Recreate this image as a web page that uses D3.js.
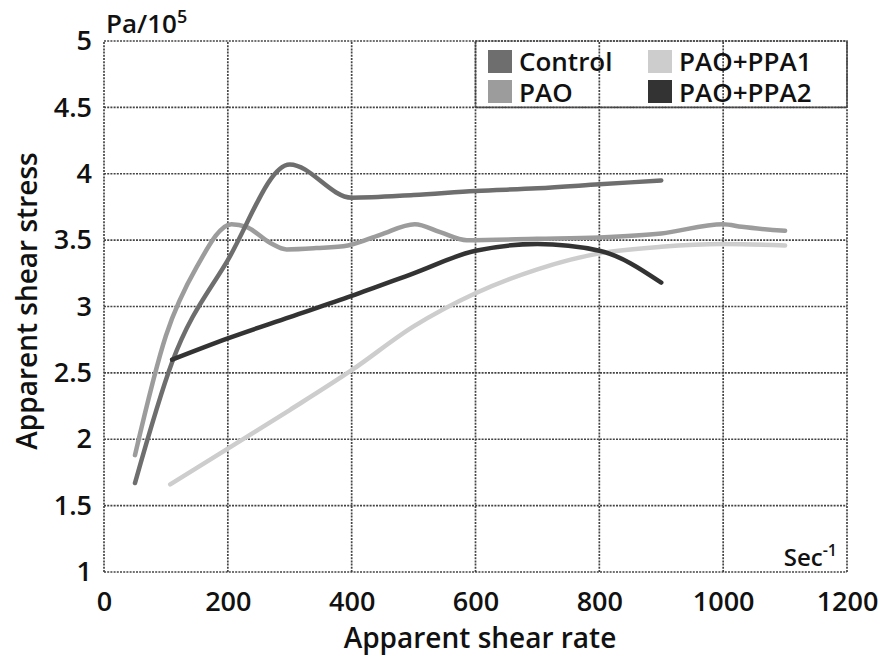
<!DOCTYPE html>
<html>
<head>
<meta charset="utf-8">
<script src="https://cdn.jsdelivr.net/npm/d3@7"></script>
<style>
  body { margin: 0; background: #fff; }
  svg text { font-family: "Open Sans", "Noto Sans", sans-serif; fill: #111; font-weight: 600; }
</style>
</head>
<body>
<svg id="chart"></svg>
<script>
const seriesNames = ['Control', 'PAO', 'PAO+PPA1', 'PAO+PPA2'];
const seriesColors = ['#6e6e6e', '#9c9c9c', '#cdcdcd', '#333333'];

const controlRate = [50, 110, 200, 300, 400, 500, 600, 700, 800, 900];
const controlStress = [1.67, 2.58, 3.35, 4.07, 3.82, 3.84, 3.87, 3.89, 3.92, 3.95];

const paoRate = [50, 100, 150, 206, 230, 268, 295, 343, 394, 446, 502, 543, 586, 700, 800, 900, 1000, 1030, 1100];
const paoStress = [1.88, 2.78, 3.3, 3.62, 3.6, 3.48, 3.43, 3.44, 3.46, 3.54, 3.62, 3.56, 3.5, 3.51, 3.52, 3.55, 3.62, 3.6, 3.57];

const ppa1Rate = [107, 200, 300, 400, 500, 600, 700, 800, 900, 1000, 1100];
const ppa1Stress = [1.66, 1.93, 2.22, 2.52, 2.85, 3.1, 3.28, 3.4, 3.45, 3.47, 3.46];

const ppa2Rate = [110, 200, 300, 400, 500, 600, 700, 800, 900];
const ppa2Stress = [2.6, 2.76, 2.92, 3.08, 3.25, 3.42, 3.47, 3.42, 3.18];

const xTicks = [0, 200, 400, 600, 800, 1000, 1200];
const yTicks = [1, 1.5, 2, 2.5, 3, 3.5, 4, 4.5, 5];

const width = 889, height = 656;
const margin = { top: 41, right: 42, bottom: 84, left: 104 };

const svg = d3.select('#chart')
  .attr('width', width)
  .attr('height', height);

const x = d3.scaleLinear().domain([0, 1200]).range([margin.left, width - margin.right]);
const y = d3.scaleLinear().domain([1, 5]).range([height - margin.bottom, margin.top]);

const gridStyle = sel => sel
  .attr('stroke', '#444')
  .attr('stroke-width', 1.7)
  .attr('stroke-dasharray', '2,1.2')
  .attr('fill', 'none');

// grid
const grid = svg.append('g');
grid.selectAll('.vx')
  .data(xTicks)
  .enter().append('line')
  .attr('x1', d => x(d)).attr('x2', d => x(d))
  .attr('y1', y(1)).attr('y2', y(5))
  .call(gridStyle);
grid.selectAll('.hy')
  .data(yTicks)
  .enter().append('line')
  .attr('x1', x(0)).attr('x2', x(1200))
  .attr('y1', d => y(d)).attr('y2', d => y(d))
  .call(gridStyle);

// legend box covers the top right cell
svg.append('rect')
  .attr('x', x(600)).attr('y', y(5))
  .attr('width', x(1200) - x(600))
  .attr('height', y(4.5) - y(5))
  .attr('fill', '#fff')
  .call(gridStyle);

// axes (labels only, grid does the lines)
const xAxis = svg.append('g')
  .attr('transform', `translate(0,${y(1)})`)
  .call(d3.axisBottom(x).tickValues(xTicks).tickSize(0).tickPadding(20).tickFormat(d3.format('d')));
const yAxis = svg.append('g')
  .attr('transform', `translate(${x(0)},0)`)
  .call(d3.axisLeft(y).tickValues(yTicks).tickSize(0).tickPadding(12).tickFormat(d => d));
[xAxis, yAxis].forEach(a => {
  a.select('.domain').remove();
  a.selectAll('text')
    .style('font-family', '"Open Sans", sans-serif')
    .style('font-size', '27px')
    .style('font-weight', 600)
    .attr('fill', '#111');
});

// lines
const line = d3.line()
  .x(d => x(d[0]))
  .y(d => y(d[1]))
  .curve(d3.curveMonotoneX);

const series = [
  d3.zip(controlRate, controlStress),
  d3.zip(paoRate, paoStress),
  d3.zip(ppa1Rate, ppa1Stress),
  d3.zip(ppa2Rate, ppa2Stress)
];

// light ones first so the dark lines stay on top
[2, 1, 0, 3].forEach(i => {
  svg.append('path')
    .datum(series[i])
    .attr('d', line)
    .attr('fill', 'none')
    .attr('stroke', seriesColors[i])
    .attr('stroke-width', 4.5)
    .attr('stroke-linejoin', 'round')
    .attr('stroke-linecap', 'round');
});

// legend
const legendPos = [[488, 50], [488, 80], [648, 50], [648, 80]];
seriesNames.forEach((name, i) => {
  const [lx, ly] = legendPos[i];
  svg.append('rect')
    .attr('x', lx).attr('y', ly)
    .attr('width', 24).attr('height', 23)
    .attr('fill', seriesColors[i]);
  svg.append('text')
    .attr('x', lx + 31).attr('y', ly + (i % 2 ? 22 : 21))
    .style('font-size', '26px')
    .text(name);
});

// units
const pa = svg.append('text')
  .attr('x', 106).attr('y', 33)
  .style('font-size', '26px');
pa.append('tspan').text('Pa/10');
pa.append('tspan').attr('dy', -10).style('font-size', '18px').text('5');

const sec = svg.append('text')
  .attr('x', 837).attr('y', 566)
  .attr('text-anchor', 'end')
  .style('font-size', '24px');
sec.append('tspan').text('Sec');
sec.append('tspan').attr('dy', -10).style('font-size', '16px').text('-1');

// axis titles
svg.append('text')
  .attr('x', 480).attr('y', 648)
  .attr('text-anchor', 'middle')
  .style('font-size', '28px')
  .text('Apparent shear rate');

svg.append('text')
  .attr('transform', `translate(37,${301}) rotate(-90)`)
  .attr('text-anchor', 'middle')
  .style('font-size', '28px')
  .text('Apparent shear stress');
</script>
</body>
</html>
